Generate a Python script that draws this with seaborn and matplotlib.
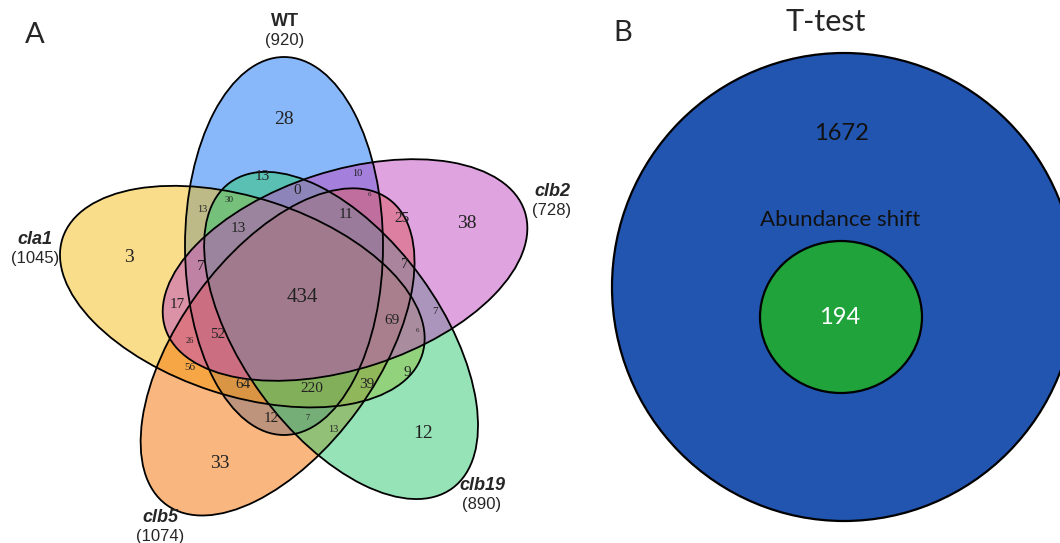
import matplotlib
matplotlib.use("Agg")
import matplotlib.pyplot as plt
from matplotlib.patches import Ellipse
import numpy as np
import seaborn as sns

# ---- data ----
set_names = ["WT", "clb2", "clb19", "clb5", "cla1"]
set_totals = [920, 728, 890, 1074, 1045]
set_colors = ["#1373f5", "#c149c1", "#2dc971", "#f57100", "#f5bd19"]

# region counts of panel A (same order as region_pos below)
region_counts = [28, 38, 12, 33, 3, 434,
                 13, 0, 10, 6, 25, 11, 13, 13, 30, 7, 7,
                 17, 52, 69, 7, 6, 26, 56, 64, 220, 39, 9, 12, 7, 13]

ttest_total = 1672
shift_total = 194
shift_label = "Abundance shift"
ttest_label = "T-test"

# ---- layout (pixel coords, y down) ----
region_pos = [(284, 120), (467, 224), (423, 433), (220, 463), (129, 257), (302, 297),
              (262, 177), (297, 190), (357, 173), (369, 194), (402, 218), (346, 214),
              (238, 228), (202, 209), (229, 200), (201, 267), (405, 264),
              (177, 305), (218, 335), (392, 320), (435, 311), (418, 331), (190, 341),
              (190, 367), (243, 384), (312, 389), (367, 385), (407, 373), (271, 418),
              (308, 418), (333, 430)]
region_size = [14, 14, 14, 14, 14, 15,
               11, 11, 7.5, 5, 11, 11, 11, 7.5, 6.5, 11, 11,
               11, 11, 11, 8, 5, 6, 8, 11, 11, 11, 11, 11, 6, 7.5]
label_pos = {"WT": (285, 22), "clb2": (552, 192), "clb19": (482, 486),
             "clb5": (160, 518), "cla1": (35, 240)}

sns.set_theme(style="white")

fig = plt.figure(figsize=(10.6, 5.43), dpi=100)
ax = fig.add_axes([0, 0, 1, 1])
ax.set_xlim(0, 1060)
ax.set_ylim(543, 0)
ax.axis("off")

# five rotated ellipses around a common centre
cx, cy = 298, 300
off = np.array([-14.0, 54.0])
ell = {}
for k, name in enumerate(set_names):
    th = np.deg2rad(-72 * k)
    rot = np.array([[np.cos(th), -np.sin(th)], [np.sin(th), np.cos(th)]])
    ox, oy = rot @ off
    phi = 90 - 72 * k
    ell[name] = ((cx + ox, cy - oy), -phi)

draw_order = ["WT", "cla1", "clb5", "clb19", "clb2"]
for name in draw_order:
    c = set_colors[set_names.index(name)]
    (x, y), ang = ell[name]
    ax.add_patch(Ellipse((x, y), 378, 198, angle=ang, facecolor=c, alpha=0.5, edgecolor="none"))
for name in draw_order:
    (x, y), ang = ell[name]
    ax.add_patch(Ellipse((x, y), 378, 198, angle=ang, facecolor="none", edgecolor="black", lw=1.3))

for n, (x, y), s in zip(region_counts, region_pos, region_size):
    ax.text(x, y, str(n), ha="center", va="center", fontsize=s,
            family="Liberation Serif", color="#222222")

for name, total in zip(set_names, set_totals):
    x, y = label_pos[name]
    style = "normal" if name == "WT" else "italic"
    ax.text(x, y, name, ha="center", va="center", fontsize=13, fontweight="bold",
            style=style, family="Liberation Sans")
    ax.text(x, y + 18, f"({total})", ha="center", va="center", fontsize=12,
            family="Liberation Sans")

ax.text(35, 35, "A", ha="center", va="center", fontsize=21, family="Lato")
ax.text(623, 33, "B", ha="center", va="center", fontsize=21, family="Lato")

# panel B: nested circles
ax.add_patch(Ellipse((844, 287), 464, 468, facecolor="#2155b0", edgecolor="black", lw=1.6))
ax.add_patch(Ellipse((841, 317), 162, 152, facecolor="#1fa33a", edgecolor="black", lw=1.6))
ax.text(826, 22, ttest_label, ha="center", va="center", fontsize=22, family="Lato")
ax.text(841, 134, str(ttest_total), ha="center", va="center", fontsize=17, family="Lato", color="#111111")
ax.text(840, 220, shift_label, ha="center", va="center", fontsize=16, family="Lato", color="#111111")
ax.text(840, 317, str(shift_total), ha="center", va="center", fontsize=17, family="Lato", color="white")

fig.savefig("out.png", dpi=100)
